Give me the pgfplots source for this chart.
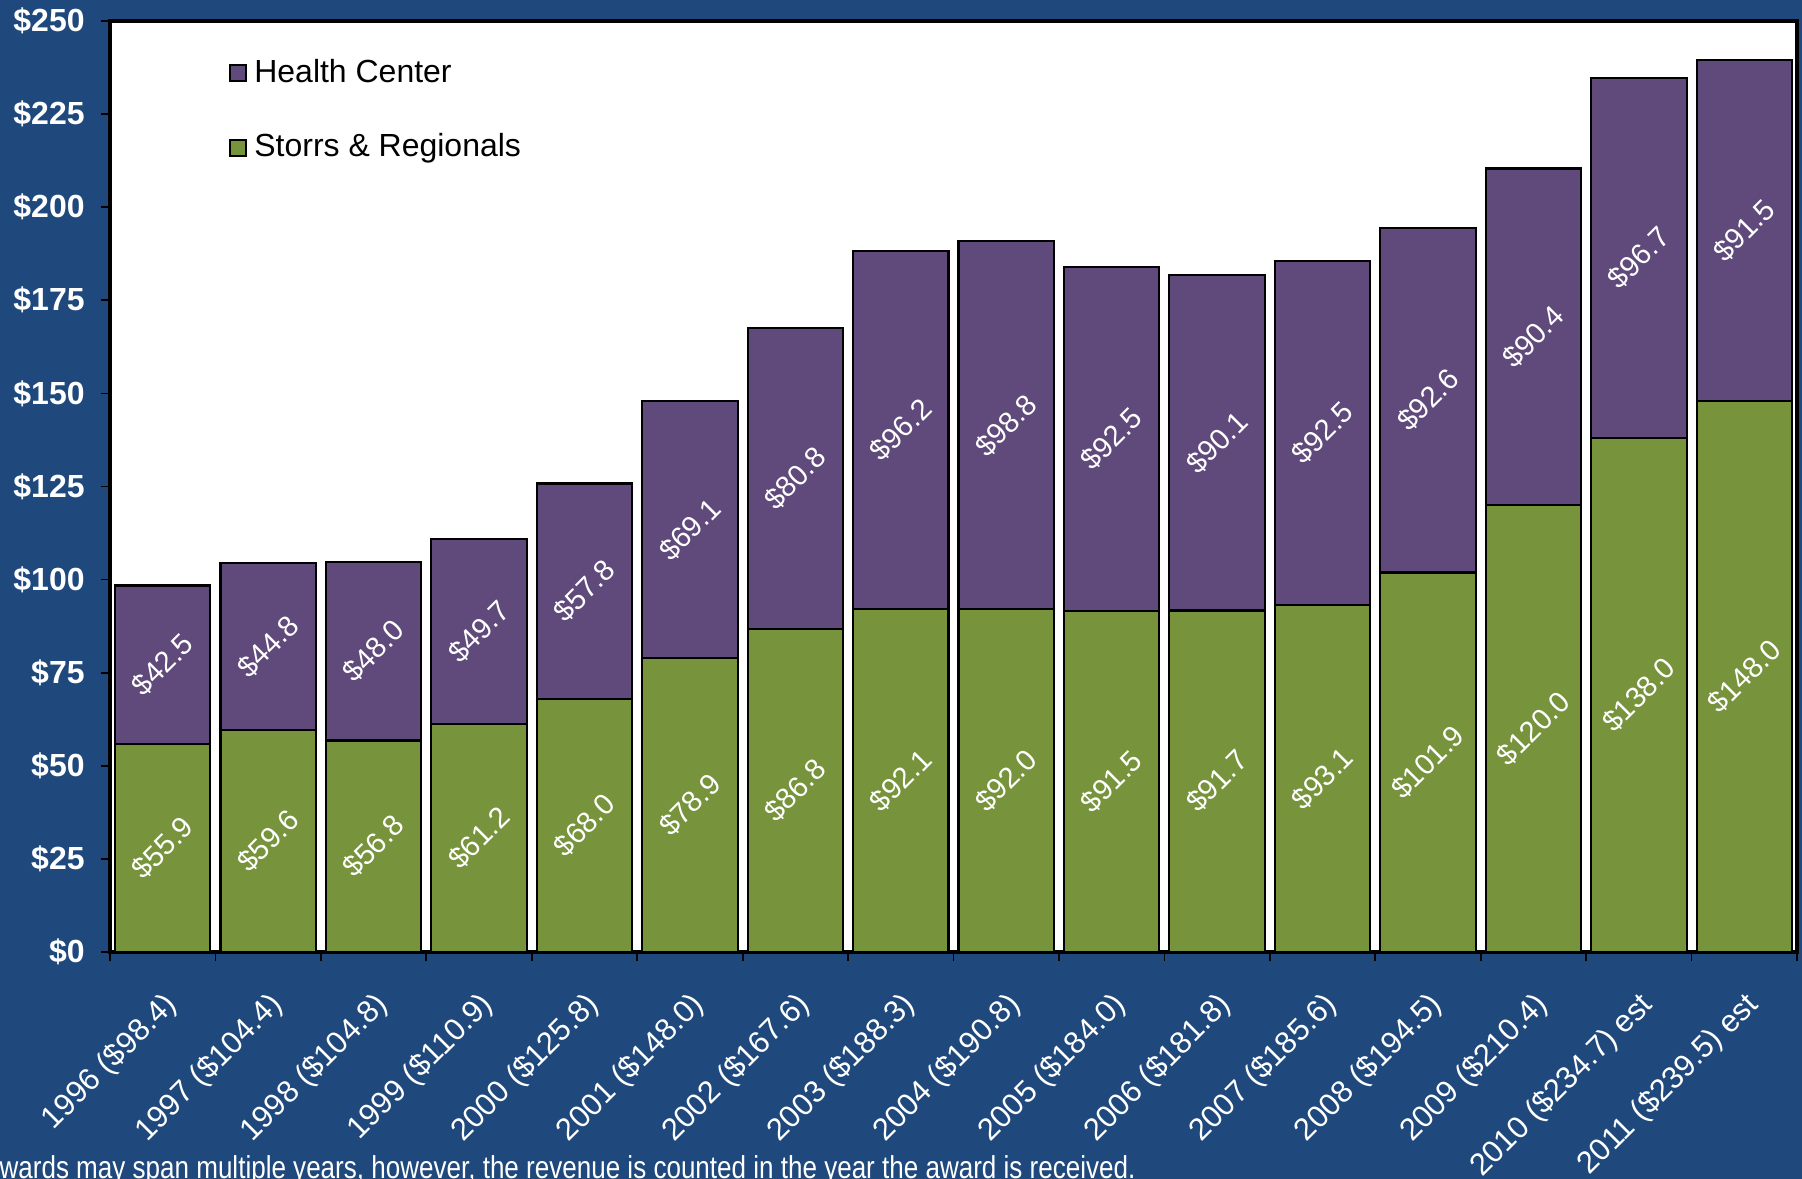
\documentclass[border=0pt]{standalone}
\usepackage{pgfplots}
\pgfplotsset{compat=1.18}
\usepackage{pgfplotstable}
\usepackage{fontspec}
\setmainfont{Liberation Sans}

\definecolor{bgblue}{HTML}{1F497D}
\definecolor{storrs}{HTML}{77933C}
\definecolor{health}{HTML}{604A7B}

\pgfplotsset{
    sq legend/.style={legend image code/.code={\draw[##1] (0cm,-0.08cm) rectangle (0.16cm,0.08cm);}},
    seg label/.style={
        visualization depends on={rawy \as \val},
        nodes near coords={\$\pgfmathprintnumber[fixed,fixed zerofill,precision=1]{\val}}},
}

% research awards, millions of dollars
\pgfplotstableread{
idx storrs health
0  55.9  42.5
1  59.6  44.8
2  56.8  48.0
3  61.2  49.7
4  68.0  57.8
5  78.9  69.1
6  86.8  80.8
7  92.1  96.2
8  92.0  98.8
9  91.5  92.5
10 91.7  90.1
11 93.1  92.5
12 101.9 92.6
13 120.0 90.4
14 138.0 96.7
15 148.0 91.5
}\awards

\begin{document}
\begin{tikzpicture}
\fill[bgblue] (0,0) rectangle (18.02,11.79);
\useasboundingbox (0,0) rectangle (18.02,11.79);
\begin{axis}[
    at={(1.10cm,2.27cm)}, anchor=south west,
    scale only axis, width=16.87cm, height=9.31cm,
    ybar stacked, bar width=0.905,
    xmin=-0.5, xmax=15.5, ymin=0, ymax=250,
    /pgf/number format/assume math mode=true,
    axis background/.style={fill=white},
    axis line style={line width=0.9pt, black},
    tick align=outside, xtick pos=bottom, ytick pos=left,
    major tick length=0.09cm,
    tick style={black, line width=0.5pt},
    xtick={-0.5,0.5,...,15.5}, xticklabels={},
    extra x ticks={0,...,15},
    extra x tick labels={{1996 (\$98.4)},{1997 (\$104.4)},{1998 (\$104.8)},{1999 (\$110.9)},{2000 (\$125.8)},{2001 (\$148.0)},{2002 (\$167.6)},{2003 (\$188.3)},{2004 (\$190.8)},{2005 (\$184.0)},{2006 (\$181.8)},{2007 (\$185.6)},{2008 (\$194.5)},{2009 (\$210.4)},{2010 (\$234.7) est},{2011 (\$239.5) est}},
    extra x tick style={major tick length=0pt,
        xticklabel style={xshift=-0.01cm, yshift=-0.37cm, rotate=45, anchor=north east,
            inner sep=0pt, text=white, font=\fontsize{8.8}{10}\selectfont}},
    ytick={0,25,...,250},
    yticklabels={\$0,\$25,\$50,\$75,\$100,\$125,\$150,\$175,\$200,\$225,\$250},
    yticklabel style={text=white, font=\bfseries\fontsize{9.1}{10}\selectfont, xshift=-0.04cm},
    legend style={at={(0.064,0.975)}, anchor=north west, draw=none, fill=none,
        font=\fontsize{9.1}{10}\selectfont, row sep=0.32cm},
    legend cell align=left,
    reverse legend,
    every node near coord/.append style={rotate=45, anchor=center,
        text=white, font=\fontsize{8.3}{10}\selectfont},
]
\addplot[fill=storrs, draw=black, line width=0.6pt, sq legend, seg label]
    table[x=idx, y=storrs] {\awards};
\addlegendentry{Storrs \& Regionals}
\addplot[fill=health, draw=black, line width=0.6pt, sq legend, seg label]
    table[x=idx, y=health] {\awards};
\addlegendentry{Health Center}
\end{axis}
\node[anchor=base west, inner sep=0pt, text=white, font=\fontsize{9}{10}\selectfont]
    at (-0.18cm,0cm) {\scalebox{0.823}[1]{Awards may span multiple years, however, the revenue is counted in the year the award is received.}};
\end{tikzpicture}
\end{document}
